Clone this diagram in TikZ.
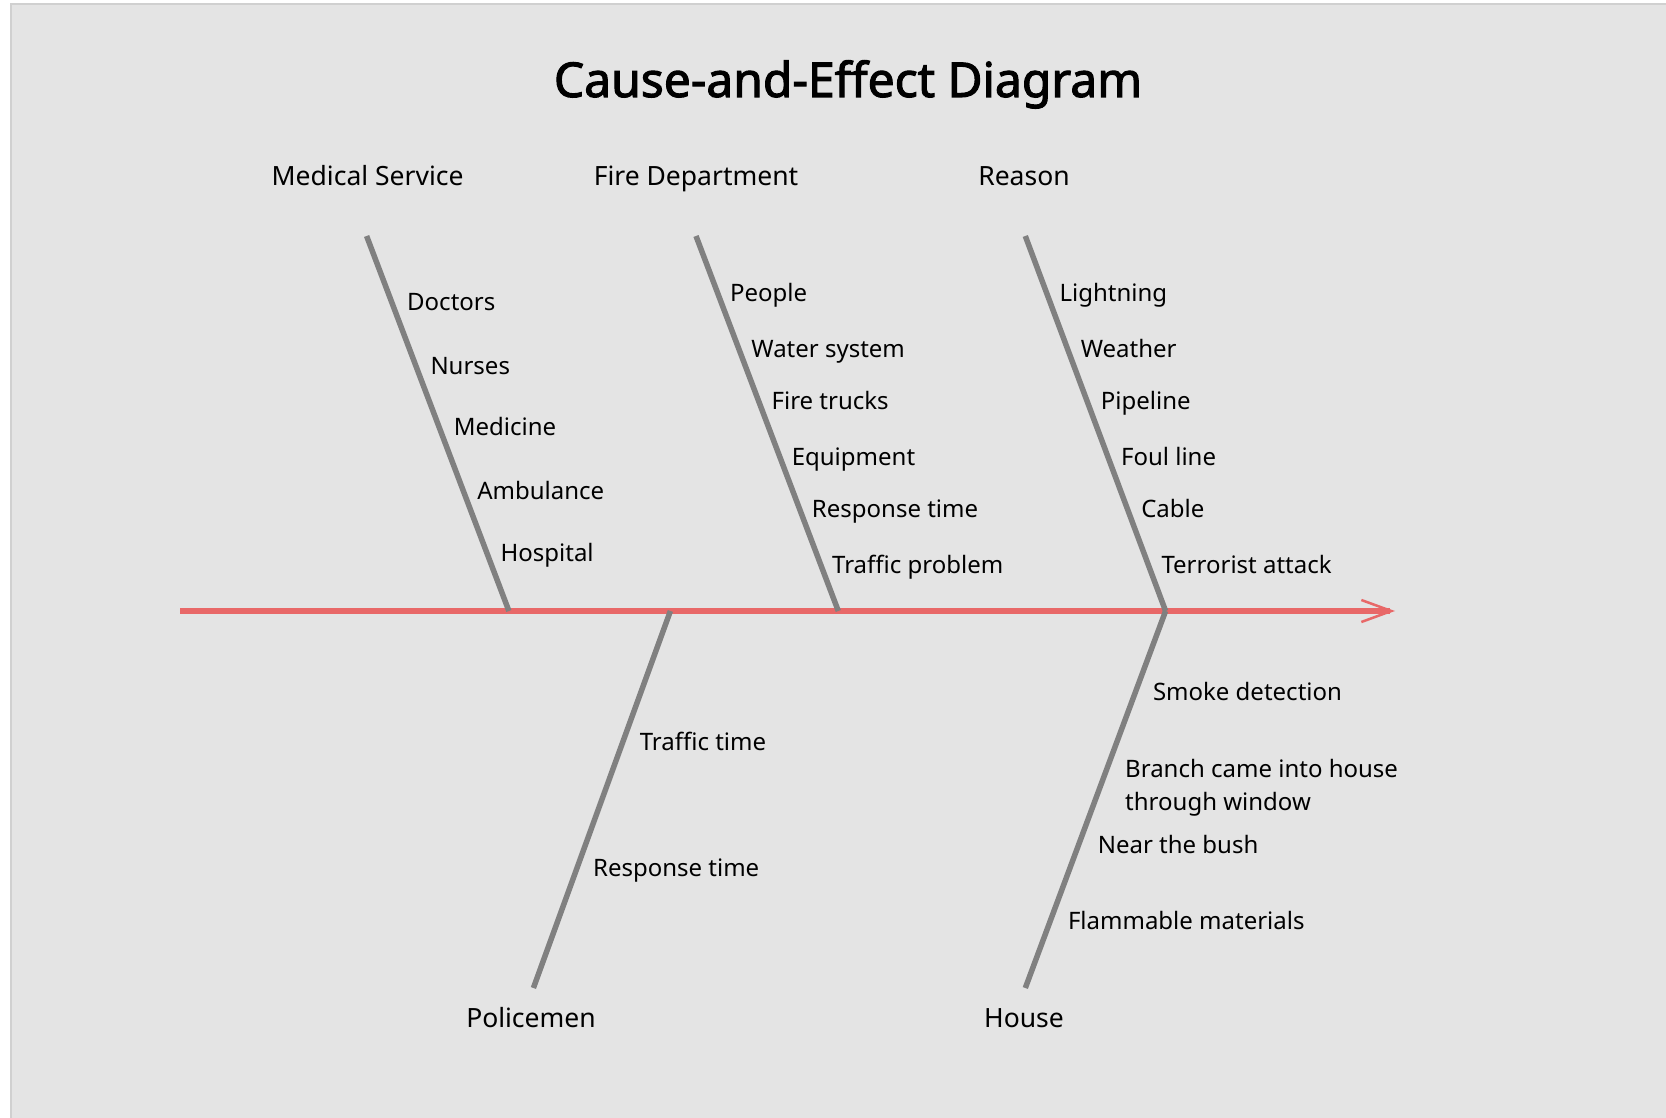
\documentclass[tikz,border=0pt]{standalone}
\usepackage{fontspec}
\setmainfont{Noto Sans}[AutoFakeBold=2.2]
\usetikzlibrary{arrows.meta}
\definecolor{bgc}{RGB}{228,228,228}
\definecolor{framec}{RGB}{208,208,208}
\definecolor{spinec}{RGB}{232,104,104}
\definecolor{bonec}{RGB}{128,128,128}
\tikzset{
  bone/.style={draw=bonec, line width=5.5pt},
  spine/.style={draw=spinec, line width=6pt, -{Straight Barb[length=30pt,width=22pt,line width=2.5pt]}},
  cat/.style={anchor=base, inner sep=0pt, font=\fontsize{26.5}{31}\selectfont},
  item/.style={anchor=base west, inner sep=0pt, font=\fontsize{24}{32.3}\selectfont, align=left},
  ttl/.style={anchor=base, inner sep=0pt, font=\fontsize{48}{56}\selectfont\bfseries}
}
\begin{document}
\begin{tikzpicture}[x=1pt,y=-1pt]
\useasboundingbox (0,0) rectangle (1666,1118);
\fill[white] (0,0) rectangle (1666,1118);
\begin{scope}
\clip (0,0) rectangle (1666,1118);
\draw[framec, fill=bgc, line width=1.5pt] (11,4) rectangle (1680,1130);
\end{scope}

\node[ttl] (title) at (848,97) {Cause-and-Effect Diagram};

% categories
\node[cat] (med) at (367.6,186) {Medical Service};
\node[cat] (fire) at (696,186) {Fire Department};
\node[cat] (reason) at (1024,186) {Reason};
\node[cat] (police) at (531,1027.5) {Policemen};
\node[cat] (house) at (1024,1027.5) {House};

% bone coordinates
\coordinate (s0) at (180,611);
\coordinate (s1) at (1395,611);
\coordinate (medT) at (366.6,236);
\coordinate (medB) at (508.9,611);
\coordinate (fireT) at (696,236);
\coordinate (fireB) at (838.3,611);
\coordinate (reaT) at (1025.3,236);
\coordinate (reaB) at (1165.6,611);
\coordinate (polT) at (670.4,611);
\coordinate (polB) at (533.4,988);
\coordinate (houT) at (1165.6,611);
\coordinate (houB) at (1025.3,988);

\draw[spine] (s0) -- (s1);
\draw[bone] (medT) -- (medB);
\draw[bone] (fireT) -- (fireB);
\draw[bone] (reaT) -- (reaB);
\draw[bone] (polT) -- (polB);
\draw[bone] (houT) -- (houB);

% items: medical
\node[item] (m1) at (407,310.8) {Doctors};
\node[item] (m2) at (430.3,374.5) {Nurses};
\node[item] (m3) at (453.7,435.1) {Medicine};
\node[item] (m4) at (477.1,499.9) {Ambulance};
\node[item] (m5) at (500.4,561.5) {Hospital};
% fire
\node[item] (f1) at (729.9,301.2) {People};
\node[item] (f2) at (751.2,357.5) {Water system};
\node[item] (f3) at (771.4,409.6) {Fire trucks};
\node[item] (f4) at (791.6,465.9) {Equipment};
\node[item] (f5) at (811.75,517.9) {Response time};
\node[item] (f6) at (831.9,573.2) {Traffic problem};
% reason
\node[item] (r1) at (1059.3,301.2) {Lightning};
\node[item] (r2) at (1080.6,357.5) {Weather};
\node[item] (r3) at (1100.75,409.6) {Pipeline};
\node[item] (r4) at (1120.9,465.9) {Foul line};
\node[item] (r5) at (1141.1,517.9) {Cable};
\node[item] (r6) at (1161.3,573.2) {Terrorist attack};
% police
\node[item] (p1) at (639.6,750.6) {Traffic time};
\node[item] (p2) at (592.9,876) {Response time};
% house
\node[item] (h1) at (1152.8,700.7) {Smoke detection};
\node[item] (h2) at (1125,810) {Branch came into house\\through window};
\node[item] (h3) at (1097.6,853.7) {Near the bush};
\node[item] (h4) at (1067.8,929.1) {Flammable materials};
\end{tikzpicture}
\end{document}
